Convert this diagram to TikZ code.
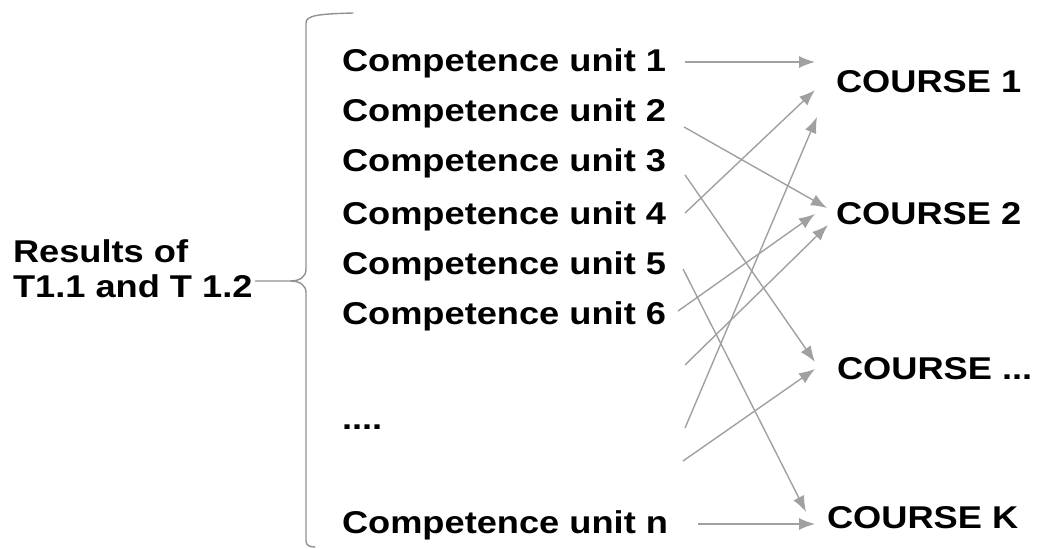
\documentclass[tikz,border=0pt]{standalone}
\usepackage{fontspec}
\setmainfont[FakeStretch=1.15]{Liberation Sans}
\usetikzlibrary{arrows.meta}
\definecolor{linkgray}{RGB}{160,160,160}
\definecolor{bracegray}{RGB}{145,145,145}
\tikzset{
  lbl/.style={anchor=base west,inner sep=0pt,outer sep=0pt,
    font=\fontsize{31.5bp}{35bp}\selectfont\bfseries},
  link/.style={linkgray,line width=1.4bp,-{Latex[length=16bp,width=12bp]}},
  brace/.style={bracegray,line width=1.4bp,line cap=round},
}
\begin{document}
\begin{tikzpicture}[line join=bevel,]
\useasboundingbox (0bp,0bp) rectangle (1043bp,549bp);
%%
\node (res1) at (13bp,286bp) [lbl] {Results of};
  \node (res2) at (13bp,251bp) [lbl] {T1.1 and T 1.2};
  \node (cu1) at (342bp,477bp) [lbl] {Competence unit 1};
  \node (cu2) at (342bp,427bp) [lbl] {Competence unit 2};
  \node (cu3) at (342bp,377bp) [lbl] {Competence unit 3};
  \node (cu4) at (342bp,324bp) [lbl] {Competence unit 4};
  \node (cu5) at (342bp,274bp) [lbl] {Competence unit 5};
  \node (cu6) at (342bp,224bp) [lbl] {Competence unit 6};
  \node (dots) at (342bp,119bp) [lbl] {....};
  \node (cun) at (342bp,16bp) [lbl] {Competence unit n};
  \node (c1) at (836bp,456bp) [lbl] {COURSE 1};
  \node (c2) at (836bp,324bp) [lbl] {COURSE 2};
  \node (c3) at (837bp,169bp) [lbl] {COURSE ...};
  \node (ck) at (827bp,21bp) [lbl] {COURSE K};
  \coordinate (x1) at (685bp,184bp);
  \coordinate (x2) at (685bp,121bp);
  \coordinate (x3) at (683bp,88bp);
  \coordinate (tip) at (290bp,268bp);
%
\draw [brace] (353bp,536bp) .. controls (320bp,535bp) and (306bp,534bp) .. (306bp,526bp) -- (306bp,280bp) .. controls (306bp,272bp) and (300bp,268bp) .. (tip) .. controls (300bp,268bp) and (306bp,264bp) .. (306bp,256bp) -- (306bp,8bp) .. controls (306bp,4bp) and (309bp,2bp) .. (315bp,2bp);
  \draw [brace] ([shift={(3bp,17bp)}]res2.base east) -- (tip);
%
\draw [link] ([shift={(19bp,10bp)}]cu1.base east) -- ([shift={(-21bp,31bp)}]c1.base west);
  \draw [link] ([shift={(18bp,-5bp)}]cu2.base east) -- ([shift={(-9bp,17bp)}]c2.base west);
  \draw [link] ([shift={(19bp,-3bp)}]cu3.base east) -- ([shift={(-22bp,18bp)}]c3.base west);
  \draw [link] ([shift={(19bp,12bp)}]cu4.base east) -- ([shift={(-21bp,3bp)}]c1.base west);
  \draw [link] ([shift={(17bp,6bp)}]cu5.base east) -- ([shift={(-21bp,16bp)}]ck.base west);
  \draw [link] ([shift={(12bp,14bp)}]cu6.base east) -- ([shift={(-21bp,11bp)}]c2.base west);
  \draw [link] (x1) -- ([shift={(-8bp,0bp)}]c2.base west);
  \draw [link] (x2) -- ([shift={(-19bp,-24bp)}]c1.base west);
  \draw [link] (x3) -- ([shift={(-22bp,11bp)}]c3.base west);
  \draw [link] ([shift={(30bp,9bp)}]cun.base east) -- ([shift={(-12bp,4bp)}]ck.base west);
%
\end{tikzpicture}
\end{document}
